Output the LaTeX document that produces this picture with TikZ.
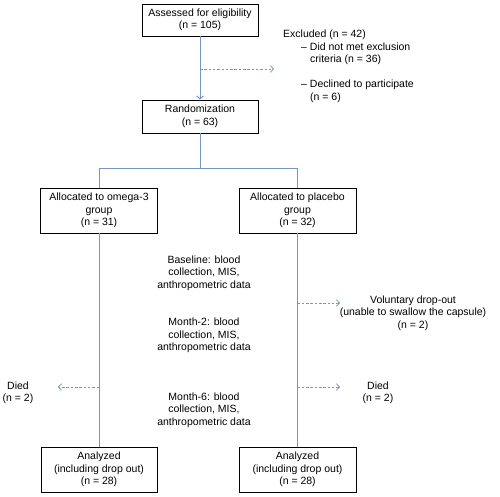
\documentclass[tikz,border=0pt]{standalone}
\usepackage{fontspec}
\setmainfont{Liberation Sans}
\usetikzlibrary{positioning,arrows.meta}
\definecolor{flowblue}{RGB}{118,150,192}

\begin{document}
\begin{tikzpicture}[x=1pt,y=-1pt,
    font=\fontsize{10.5}{12.5}\selectfont,
    >={Straight Barb[length=3pt,width=6.5pt]},
    box/.style={draw=black, line width=0.9pt, align=center, inner sep=0pt},
    flow/.style={draw=flowblue, line width=1pt},
    side/.style={draw=flowblue, line width=0.8pt, dash pattern=on 2.5pt off 1.8pt, ->},
    note/.style={align=center, inner sep=0pt}]
    \useasboundingbox (0,0) rectangle (500,497);

    \node[box, minimum width=116pt, minimum height=32pt] (assess) at (200,20) {Assessed for eligibility\\(n = 105)};
    \node[box, minimum width=116pt, minimum height=33pt] (random) at (200,116.5) {Randomization\\(n = 63)};
    \node[box, minimum width=117pt, minimum height=45pt] (omega) at (99,210.5) {Allocated to omega-3\\group\\(n = 31)};
    \node[box, minimum width=117pt, minimum height=45pt] (placebo) at (297.5,210.5) {Allocated to placebo\\group\\(n = 32)};
    \node[box, minimum width=116pt, minimum height=45pt] (anaomega) at (99,469.5) {Analyzed\\(including drop out)\\(n = 28)};
    \node[box, minimum width=117pt, minimum height=45pt] (anaplacebo) at (297.5,469.5) {Analyzed\\(including drop out)\\(n = 28)};

    \node[align=left, inner sep=0pt, anchor=north west] (excluded) at (283,30)
        {Excluded (n = 42)\\
         \hspace{18pt}-- Did not met exclusion\\
         \hspace{27pt}criteria (n = 36)\\[12.5pt]
         \hspace{18pt}-- Declined to participate\\
         \hspace{27pt}(n = 6)};

    \node[note] (baseline) at (204,273) {Baseline: blood\\collection, MIS,\\anthropometric data};
    \node[note] (month2) at (204,335.5) {Month-2: blood\\collection, MIS,\\anthropometric data};
    \node[note] (month6) at (204,410) {Month-6: blood\\collection, MIS,\\anthropometric data};

    \node[note] (dropout) at (413,313) {Voluntary drop-out\\(unable to swallow the capsule)\\(n = 2)};
    \node[note] (diedomega) at (18,393) {Died\\(n = 2)};
    \node[note] (diedplacebo) at (378,393) {Died\\(n = 2)};

    \draw[flow, ->] (assess) -- (random);
    \coordinate (excstart) at (200,69);
    \coordinate (excend) at (274,69);
    \draw[side] (excstart) -- (excend);

    \coordinate (split) at (200,169);
    \draw[flow] (random) -- (split);
    \draw[flow] (split) -| (omega.north);
    \draw[flow] (split) -| (placebo.north);

    \draw[flow] (omega) -- (anaomega);
    \draw[flow] (placebo) -- (anaplacebo);

    \coordinate (dropstart) at (297.5,303);
    \coordinate (dropend) at (340,303);
    \draw[side] (dropstart) -- (dropend);
    \coordinate (diedostart) at (99,387);
    \coordinate (diedoend) at (58,387);
    \draw[side] (diedostart) -- (diedoend);
    \coordinate (diedpstart) at (297.5,387);
    \coordinate (diedpend) at (340,387);
    \draw[side] (diedpstart) -- (diedpend);
\end{tikzpicture}
\end{document}
